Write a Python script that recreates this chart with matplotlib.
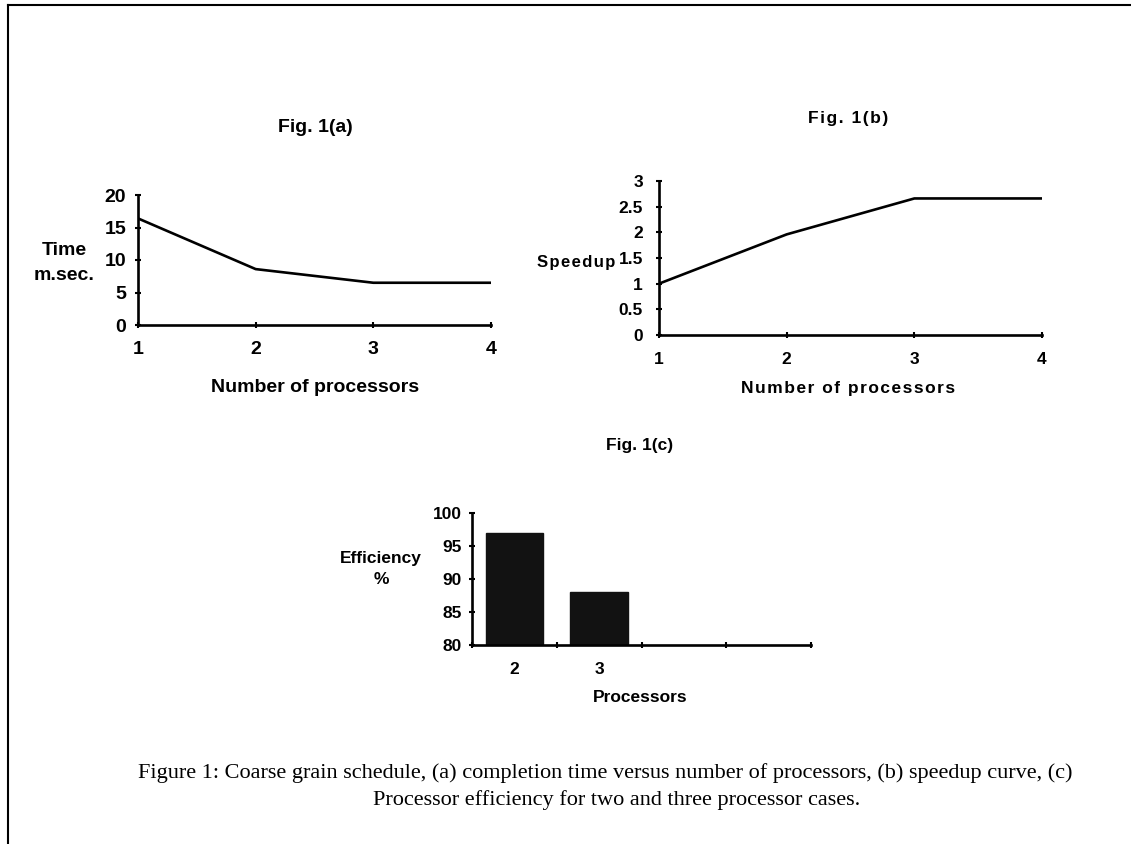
import matplotlib.pyplot as plt
from matplotlib.lines import Line2D

# --- data ---
procs = [1, 2, 3, 4]
time_ms = [16.4, 8.6, 6.5, 6.5]
speedup = [1.0, 1.96, 2.66, 2.66]
eff_labels = ["2", "3", "", ""]
efficiency = [97, 88]

SANS = "Liberation Sans"
SERIF = "Liberation Serif"
LW = 1.9
W, H = 1131, 844

fig = plt.figure(figsize=(11.31, 8.44), dpi=100)
fig.patch.set_facecolor("white")


def px(x, y):
    # pixel position (from top-left) -> figure fraction
    return x / W, 1 - y / H


def spaced(s):
    # a little extra letter spacing, like the scanned charts
    return "\u200a".join(s)


def style_axes(ax, fs):
    for s in ["top", "right"]:
        ax.spines[s].set_visible(False)
    for s in ["left", "bottom"]:
        ax.spines[s].set_linewidth(LW)
        ax.spines[s].set_color("black")
    ax.tick_params(direction="inout", length=5, width=1.5, labelsize=fs)
    for lab in ax.get_xticklabels() + ax.get_yticklabels():
        lab.set_fontfamily(SANS)
        lab.set_fontweight("bold")


# === Fig. 1(a) ===
ax1 = fig.add_axes([138 / W, 1 - 325 / H, (491 - 138) / W, 130 / H])
ax1.plot(procs, time_ms, color="black", lw=LW)
ax1.set_xlim(1, 4)
ax1.set_ylim(0, 20)
ax1.set_xticks(procs)
ax1.set_yticks([0, 5, 10, 15, 20])
style_axes(ax1, 14)
ax1.tick_params(axis="x", pad=9)
ax1.tick_params(axis="y", pad=6)
fig.text(*px(315, 128), "Fig. 1(a)", ha="center", va="center",
         fontsize=14, family=SANS, weight="bold")
fig.text(*px(315, 388), "Number of processors", ha="center", va="center",
         fontsize=14, family=SANS, weight="bold")
fig.text(*px(64, 263), "Time\nm.sec.", ha="center", va="center",
         fontsize=14, family=SANS, weight="bold", linespacing=1.55)

# === Fig. 1(b) ===
ax2 = fig.add_axes([659 / W, 1 - 335 / H, (1042 - 659) / W, 154 / H])
ax2.plot(procs, speedup, color="black", lw=LW)
ax2.set_xlim(1, 4)
ax2.set_ylim(0, 3)
ax2.set_xticks(procs)
ax2.set_yticks([0, 0.5, 1, 1.5, 2, 2.5, 3])
ax2.set_yticklabels(["0", "0.5", "1", "1.5", "2", "2.5", "3"])
style_axes(ax2, 12.5)
ax2.tick_params(axis="x", pad=10)
ax2.tick_params(axis="y", pad=9)
fig.text(*px(848, 118), spaced("Fig. 1(b)"), ha="center", va="center",
         fontsize=12.5, family=SANS, weight="bold")
fig.text(*px(848, 388), spaced("Number of processors"), ha="center", va="center",
         fontsize=12.5, family=SANS, weight="bold")
fig.text(*px(576, 262), spaced("Speedup"), ha="center", va="center",
         fontsize=12, family=SANS, weight="bold")

# === Fig. 1(c) ===
ax3 = fig.add_axes([472 / W, 1 - 645 / H, (811 - 472) / W, 132 / H])
bar_x = [i + 0.5 for i in range(len(efficiency))]
ax3.bar(bar_x, [v - 80 for v in efficiency], bottom=80, width=0.68,
        color="#121212", edgecolor="#121212")
ax3.set_xlim(0, 4)
ax3.set_ylim(80, 100)
ax3.set_xticks([0, 1, 2, 3, 4])
ax3.set_xticklabels([])
ax3.set_xticks([i + 0.5 for i in range(len(eff_labels))], minor=True)
ax3.set_xticklabels(eff_labels, minor=True)
ax3.tick_params(axis="x", which="minor", length=0, pad=12)
ax3.set_yticks([80, 85, 90, 95, 100])
style_axes(ax3, 12.5)
ax3.tick_params(axis="y", pad=5)
for lab in ax3.get_xticklabels(minor=True):
    lab.set_fontfamily(SANS)
    lab.set_fontweight("bold")
    lab.set_fontsize(12.5)
fig.text(*px(640, 446), "Fig. 1(c)", ha="center", va="center",
         fontsize=12.5, family=SANS, weight="bold")
fig.text(*px(640, 698), "Processors", ha="center", va="center",
         fontsize=12.5, family=SANS, weight="bold")
fig.text(*px(381, 569), "Efficiency\n%", ha="center", va="center",
         fontsize=12.5, family=SANS, weight="bold", linespacing=1.55)

# === caption ===
fig.text(*px(605, 773),
         "Figure 1: Coarse grain schedule, (a) completion time versus number of processors, (b) speedup curve, (c)",
         ha="center", va="center", fontsize=16, family=SERIF)
fig.text(*px(617, 800),
         "Processor efficiency for two and three processor cases.",
         ha="center", va="center", fontsize=16, family=SERIF)

# === page frame (top and left edge) ===
fig.add_artist(Line2D([8 / W, 1.0], [1 - 5 / H, 1 - 5 / H], color="black", lw=1.5))
fig.add_artist(Line2D([8 / W, 8 / W], [0.0, 1 - 5 / H], color="black", lw=1.5))

fig.savefig("out.png", dpi=100, facecolor="white")
